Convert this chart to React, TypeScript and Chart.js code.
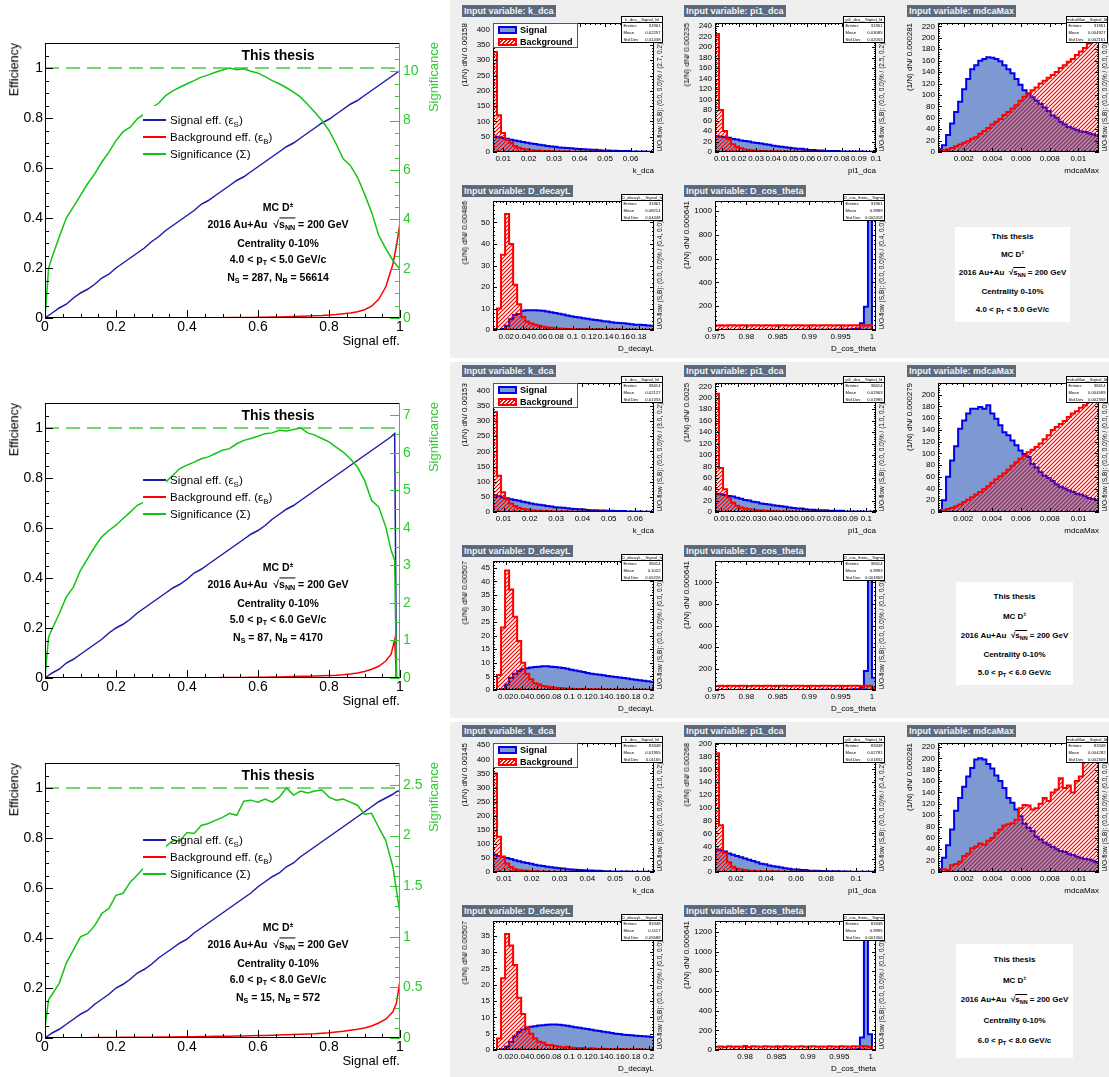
import React, { useEffect, useRef } from "react";
import { Chart, registerables } from "chart.js";
Chart.register(...registerables);

const FONT = '"Liberation Sans", Arial, Helvetica, sans-serif';
const BG = "#efefef";
const NAVY = "#1c1ca6";
const RED = "#ff0000";
const GREEN = "#14c414";
const GREEN_A = "#2fcb2f";
const GREEN_L = "#45cc45";
const SIG_FILL = "#7d99d1";
const SIG_LINE = "#0000ee";

// ---------------- efficiency / significance curves ----------------
const r1EffX = [0,0.01,0.02,0.04,0.06,0.08,0.10,0.12,0.14,0.16,0.18,0.20,0.22,0.24,0.26,0.28,0.30,0.32,0.34,0.36,0.38,0.40,0.42,0.44,0.46,0.48,0.50,0.52,0.54,0.56,0.58,0.60,0.62,0.64,0.66,0.68,0.70,0.72,0.74,0.76,0.78,0.80,0.82,0.84,0.86,0.88,0.90,0.92,0.94,0.96,0.98,0.99,1.00];
const r1SigEff = [0,0.01,0.02,0.04,0.055,0.08,0.10,0.115,0.135,0.16,0.175,0.2,0.22,0.24,0.26,0.28,0.305,0.325,0.35,0.37,0.39,0.41,0.43,0.455,0.47,0.49,0.51,0.53,0.55,0.565,0.585,0.605,0.625,0.645,0.665,0.685,0.7,0.72,0.74,0.76,0.78,0.795,0.815,0.835,0.855,0.87,0.89,0.91,0.93,0.95,0.97,0.98,0.99];
const r1BkgEff = [0,0,0,0,0,0,0,0,0,0,0,0,0,0,0,0,0,0,0,0,0,0.001,0.001,0.001,0.001,0.001,0.001,0.002,0.002,0.002,0.002,0.003,0.003,0.004,0.004,0.005,0.006,0.007,0.008,0.009,0.010,0.012,0.014,0.017,0.020,0.025,0.033,0.047,0.075,0.125,0.215,0.29,0.38];
const r1Signif = [0,2.0,2.47,3.28,4.05,4.5,4.97,5.44,5.84,6.32,6.72,7.19,7.55,7.73,8.07,8.27,8.52,8.7,9.01,9.2,9.35,9.49,9.62,9.76,9.85,9.96,10.05,10.13,10.06,10.1,10.0,9.92,9.78,9.62,9.49,9.33,9.15,8.95,8.65,8.34,8.0,7.6,7.06,6.45,6.18,5.71,5.03,4.29,3.35,2.81,2.33,2.15,2.0];

const r2EffX = [0,0.01,0.02,0.04,0.06,0.08,0.10,0.12,0.14,0.16,0.18,0.20,0.22,0.24,0.26,0.28,0.30,0.32,0.34,0.36,0.38,0.40,0.42,0.44,0.46,0.48,0.50,0.52,0.54,0.56,0.58,0.60,0.62,0.64,0.66,0.68,0.70,0.72,0.74,0.76,0.78,0.80,0.82,0.84,0.86,0.88,0.90,0.92,0.94,0.96,0.975,0.985,0.99];
const r2SigEff = [0,0.01,0.02,0.035,0.06,0.075,0.095,0.115,0.135,0.155,0.18,0.2,0.215,0.235,0.26,0.28,0.3,0.32,0.34,0.36,0.375,0.395,0.42,0.435,0.455,0.475,0.495,0.515,0.535,0.555,0.575,0.59,0.61,0.635,0.655,0.675,0.69,0.71,0.73,0.75,0.77,0.79,0.81,0.83,0.85,0.87,0.89,0.91,0.93,0.95,0.965,0.978,0];
const r2BkgEff = [0,0,0,0,0,0,0,0,0,0,0,0,0,0,0,0,0,0,0,0,0,0.001,0.001,0.001,0.001,0.001,0.002,0.002,0.002,0.002,0.003,0.003,0.003,0.004,0.004,0.005,0.006,0.007,0.007,0.008,0.009,0.01,0.011,0.013,0.016,0.02,0.026,0.035,0.047,0.068,0.095,0.153,0];
const r2Signif = [0,1.09,1.31,1.71,2.16,2.42,2.87,3.18,3.49,3.76,3.93,4.07,4.25,4.42,4.6,4.69,4.91,5.09,5.22,5.4,5.58,5.67,5.75,5.84,5.89,5.98,6.07,6.11,6.24,6.33,6.38,6.44,6.51,6.53,6.6,6.58,6.62,6.66,6.53,6.47,6.38,6.29,6.15,6.02,5.84,5.62,5.27,4.73,4.56,4.02,3.4,3.13,0];

const r3EffX = [0,0.01,0.02,0.04,0.06,0.08,0.10,0.12,0.14,0.16,0.18,0.20,0.22,0.24,0.26,0.28,0.30,0.32,0.34,0.36,0.38,0.40,0.42,0.44,0.46,0.48,0.50,0.52,0.54,0.56,0.58,0.60,0.62,0.64,0.66,0.68,0.70,0.72,0.74,0.76,0.78,0.80,0.82,0.84,0.86,0.88,0.90,0.92,0.94,0.96,0.98,0.99,1.00];
const r3SigEff = [0,0.01,0.02,0.035,0.055,0.075,0.095,0.11,0.135,0.155,0.175,0.2,0.215,0.235,0.26,0.275,0.295,0.32,0.34,0.36,0.38,0.395,0.42,0.44,0.46,0.48,0.5,0.52,0.54,0.56,0.58,0.605,0.625,0.645,0.66,0.685,0.7,0.725,0.745,0.765,0.785,0.805,0.825,0.845,0.865,0.885,0.905,0.925,0.945,0.96,0.975,0.985,0.99];
const r3BkgEff = [0,0,0,0.001,0.001,0.001,0.001,0.001,0.002,0.002,0.002,0.002,0.003,0.003,0.003,0.003,0.003,0.004,0.004,0.004,0.005,0.005,0.005,0.006,0.006,0.007,0.007,0.007,0.008,0.008,0.009,0.01,0.01,0.011,0.012,0.013,0.014,0.015,0.016,0.017,0.019,0.021,0.024,0.027,0.031,0.035,0.04,0.048,0.06,0.075,0.105,0.14,0.23];
const r3Signif = [0.1,0.38,0.43,0.54,0.74,0.87,1.0,1.03,1.11,1.23,1.28,1.41,1.43,1.54,1.61,1.69,1.74,1.77,1.89,1.95,1.95,2.03,2.02,2.1,2.12,2.15,2.18,2.22,2.2,2.34,2.35,2.33,2.36,2.33,2.38,2.47,2.4,2.44,2.42,2.44,2.45,2.38,2.35,2.36,2.33,2.3,2.21,2.22,2.08,1.95,1.69,1.46,1.23];

const EFF_XT = [0, 0.2, 0.4, 0.6, 0.8, 1];
const EFF_YT = [0, 0.2, 0.4, 0.6, 0.8, 1];
const SIG_T1 = [0, 2, 4, 6, 8, 10];
const SIG_T2 = [0, 1, 2, 3, 4, 5, 6, 7];
const SIG_T3 = [0, 0.5, 1, 1.5, 2, 2.5];

// ---------------- histograms (40 bins each) ----------------
const r1KdcaSig = [50,48,46,43,40,38,35,33,30,28,26,24,22,20,18,17,15,14,13,12,11,10,9,8,7,7,6,5,5,4,4,3,3,3,2,2,2,2,1,1];
const r1KdcaBkg = [327,120,62,40,30,20,14,10,8,6,5,4,3.5,3,2.5,2,2,1.5,1.5,1.2,1,1,0.8,0.8,0.6,0.6,0.5,0.5,0.4,0.4,0.3,0.3,0.3,0.2,0.2,0.2,0.2,0.1,0.1,0.1];
const r1Pi1Sig = [30,29,28,27,25,24,22,21,20,18,17,16,15,14,12,11,10,9,8,7,6,6,5,4,4,3,3,2,2,2,2,1,1,1,1,1,1,0.5,0.5,0.5];
const r1Pi1Bkg = [225,80,40,25,15,10,7,5,4,3,2.5,2,1.8,1.5,1.2,1,1,0.8,0.7,0.6,0.5,0.5,0.4,0.4,0.3,0.3,0.3,0.2,0.2,0.2,0.2,0.2,0.1,0.1,0.1,0.1,0.1,0.1,0.1,0.1];
const r1MdcaSig = [5,12,30,50,70,88,110,128,145,152,160,163,166,165,163,159,152,145,138,128,118,108,102,96,90,84,78,72,64,60,53,48,44,41,39,36,35,33,31,29];
const r1MdcaBkg = [2,3,5,7,10,13,16,19,23,26,32,37,42,48,53,58,65,70,76,82,90,97,103,108,113,120,125,130,135,140,147,152,158,163,170,176,182,190,196,203];
const r1DecaySig = [0,0,0.5,2,5,7,7.5,9,9.2,9.2,9.2,9.1,8.9,8.6,8.3,7.9,7.6,7.2,6.8,6.4,6.1,5.8,5.5,5.2,4.9,4.6,4.4,4.1,3.9,3.6,3.4,3.2,3.1,2.9,2.7,2.5,2.4,2.3,2.1,2.0];
const r1DecayBkg = [0.5,10,35,54,40,21,12,6,4,3,2.5,2,1.5,1.2,1,0.8,0.7,0.6,0.5,0.5,0.4,0.4,0.4,0.3,0.3,0.3,0.3,0.2,0.2,0.2,0.2,0.2,0.1,0.1,0.1,0.1,0.1,0.1,0.1,0.1];
const r1CosSig = [0.2,0.2,0.2,0.2,0.3,0.3,0.3,0.3,0.4,0.4,0.4,0.5,0.5,0.5,0.6,0.6,0.7,0.7,0.8,0.9,1,1,1.2,1.3,1.5,1.7,1.9,2.2,2.5,3,3.5,4,5,6,8,12,56,196,1300,0];
const r1CosBkg = [38,39,38,40,39,38,39,40,38,39,39,38,40,39,38,39,39,40,38,39,39,40,38,39,39,38,40,39,39,38,40,39,38,39,40,39,38,40,39,0];

const r2KdcaSig = [55,52,48,45,42,40,37,34,31,28,26,24,22,20,18,16,15,14,12,11,10,9,8,7,6,6,5,5,4,4,3,3,3,2,2,2,2,1,1,1];
const r2KdcaBkg = [330,120,65,42,28,20,14,10,8,6,5,4,3.5,3,2.5,2,2,1.5,1.5,1.2,1,1,0.8,0.8,0.6,0.6,0.5,0.5,0.4,0.4,0.3,0.3,0.3,0.2,0.2,0.2,0.2,0.1,0.1,0.1];
const r2Pi1Sig = [32,31,30,28,27,25,23,21,20,18,17,15,14,13,12,11,10,9,8,7,6,6,5,4,4,3,3,3,2,2,2,2,1,1,1,1,1,0.5,0.5,0.5];
const r2Pi1Bkg = [207,77,40,25,16,11,8,6,5,4,3,2.5,2,1.8,1.5,1.2,1,1,0.8,0.7,0.6,0.5,0.5,0.4,0.4,0.3,0.3,0.3,0.2,0.2,0.2,0.2,0.2,0.1,0.1,0.1,0.1,0.1,0.1,0.1];
const r2MdcaSig = [3,20,60,88,112,142,156,168,176,176,179,176,182,168,159,148,136,131,122,114,105,99,94,82,76,68,62,58,53,47,43,40,37,34,31,30,27,24,22,20];
const r2MdcaBkg = [2,3,5,7,10,13,17,21,25,30,34,39,44,50,56,61,66,72,79,85,91,96,102,106,111,117,124,131,140,145,150,155,162,168,172,178,182,188,194,198];
const r2DecaySig = [0,0,0.3,2,4.5,6,7,7.6,8,8.3,8.5,8.6,8.7,8.7,8.6,8.5,8.3,8.1,7.8,7.5,7.2,6.9,6.6,6.3,6,5.8,5.6,5.4,5.2,5,4.8,4.6,4.4,4.2,4,3.8,3.6,3.4,3.2,3];
const r2DecayBkg = [0,5.5,23,44,37,27,18,10,6,4,2.5,2,1.5,1.2,1,0.8,0.7,0.6,0.5,0.5,0.4,0.4,0.4,0.3,0.3,0.3,0.3,0.2,0.2,0.2,0.2,0.2,0.1,0.1,0.1,0.1,0.1,0.1,0.1,0.1];
const r2CosSig = [0.1,0.1,0.1,0.1,0.1,0.2,0.2,0.2,0.2,0.2,0.3,0.3,0.3,0.3,0.4,0.4,0.4,0.5,0.5,0.6,0.6,0.7,0.8,0.9,1,1.1,1.3,1.5,1.7,2,2.4,2.8,3.4,4,5,7,20,177,1350,115];
const r2CosBkg = [38,39,38,40,39,38,39,40,38,39,39,38,40,39,38,39,39,40,38,39,39,40,38,39,39,38,40,39,39,38,40,39,38,39,40,39,38,40,39,20];

const r3KdcaSig = [62,57,53,50,46,42,38,35,32,29,26,23,21,19,17,15,13,12,10,9,8,7,6,5,5,4,4,3,3,2,2,2,1.5,1.5,1,1,1,0.5,0.5,0.5];
const r3KdcaBkg = [350,125,55,30,18,10,7,5,4,3,2.5,2,1.5,1.2,1,0.8,0.7,0.6,0.5,0.5,0.4,0.4,0.3,0.3,0.3,0.2,0.2,0.2,0.2,0.2,0.1,0.1,0.1,0.1,0.1,0.1,0.1,0.1,0.1,0.1];
const r3Pi1Sig = [35,34,32,29,27,25,23,21,19,17,15,13,12,10,9,8,7,6,5,4,4,3,3,2,2,2,1.5,1.5,1,1,1,0.8,0.6,0.5,0.5,0.4,0.3,0.3,0.2,0.2];
const r3Pi1Bkg = [185,73,30,15,8,5,4,3,2,2,1.5,1.2,1,1,0.8,0.7,0.6,0.5,0.5,0.4,0.4,0.3,0.3,0.3,0.2,0.2,0.2,0.2,0.1,0.1,0.1,0.1,0.1,0.1,0.1,0.1,0.1,0.1,0.1,0.1];
const r3MdcaSig = [5,25,47,75,108,130,150,168,183,198,200,198,190,182,170,160,148,130,122,110,98,85,78,72,62,57,52,48,44,40,37,35,32,30,27,25,23,22,20,17];
const r3MdcaBkg = [0,5,3,12,14,18,28,32,42,45,50,48,55,60,68,75,82,84,86,92,112,118,117,110,112,120,130,125,140,145,165,148,152,140,160,168,195,200,210,205];
const r3DecaySig = [0,0,0.2,1,2.5,4.2,5.5,6.3,6.8,7.1,7.3,7.5,7.6,7.7,7.8,7.8,7.7,7.6,7.4,7.2,7,6.8,6.6,6.4,6.2,6,5.8,5.6,5.4,5.2,5,4.9,4.7,4.6,4.5,4.4,4.3,4.2,4.1,4];
const r3DecayBkg = [0,3.5,22,35.5,32,26,16,11,7,5,3.5,2.5,2.2,1.5,1.5,1.2,1,0.8,1,0.7,0.6,0.5,0.6,0.4,0.5,0.4,0.3,0.4,0.3,0.3,0.2,0.3,0.2,0.2,0.2,0.1,0.2,0.1,0.1,0.1];
const r3CosSig = [0.1,0.1,0.1,0.1,0.1,0.1,0.1,0.1,0.1,0.2,0.2,0.2,0.2,0.2,0.3,0.3,0.3,0.3,0.4,0.4,0.5,0.5,0.6,0.7,0.8,0.9,1,1.2,1.4,1.7,2,2.5,3,4,5,8,127,1500,160,0];
const r3CosBkg = [32,35,30,38,33,36,34,40,31,37,35,33,38,36,32,39,34,37,35,33,36,38,32,35,37,34,36,33,39,35,34,37,36,33,38,35,40,37,30,0];

// tick labels
const KDCA_XT = [0.01, 0.02, 0.03, 0.04, 0.05, 0.06];
const PI1_XT_A = [0.01, 0.02, 0.03, 0.04, 0.05, 0.06, 0.07, 0.08, 0.09, 0.1];
const PI1_XT_B = [0.02, 0.04, 0.06, 0.08, 0.1];
const MDCA_XT = [0.002, 0.004, 0.006, 0.008, 0.01];
const DECAY_XT_A = [0.02, 0.04, 0.06, 0.08, 0.1, 0.12, 0.14, 0.16, 0.18];
const DECAY_XT_B = [0.02, 0.04, 0.06, 0.08, 0.1, 0.12, 0.14, 0.16, 0.18, 0.2];
const COS_XT_A = [0.975, 0.98, 0.985, 0.99, 0.995, 1];
const COS_XT_B = [0.98, 0.985, 0.99, 0.995, 1];
const KDCA_YT_A = [0, 50, 100, 150, 200, 250, 300, 350, 400];
const KDCA_YT_B = [0, 50, 100, 150, 200, 250, 300, 350, 400, 450];
const YT_240 = [0, 20, 40, 60, 80, 100, 120, 140, 160, 180, 200, 220, 240];
const YT_220 = [0, 20, 40, 60, 80, 100, 120, 140, 160, 180, 200, 220];
const YT_200 = [0, 20, 40, 60, 80, 100, 120, 140, 160, 180, 200];
const DECAY_YT_1 = [0, 10, 20, 30, 40, 50];
const DECAY_YT_2 = [0, 5, 10, 15, 20, 25, 30, 35, 40, 45];
const DECAY_YT_3 = [0, 5, 10, 15, 20, 25, 30, 35];
const COS_YT_A = [0, 200, 400, 600, 800, 1000];
const COS_YT_B = [0, 200, 400, 600, 800, 1000, 1200];

const ENTRIES = ["31961", "38414", "83348"];
const PT_BINS = [["4.0", "5.0"], ["5.0", "6.0"], ["6.0", "8.0"]];
const NS = ["287", "87", "15"];
const NB = ["56614", "4170", "572"];

type H = { name: string; col: number; lvl: number; min: number; max: number; yMax: number; xt: number[]; yt: number[]; sig: number[]; bkg: number[]; binw: string; mean: string; std: string; uo: string };

const ROW_HISTS: H[][] = [
  [
    { name: "k_dca", col: 0, lvl: 0, min: 0.006, max: 0.0692, yMax: 422, xt: KDCA_XT, yt: KDCA_YT_A, sig: r1KdcaSig, bkg: r1KdcaBkg, binw: "0.00158", mean: "0.02257", std: "0.01438", uo: "(0.0, 0.0)% / (2.7, 0.2)%" },
    { name: "pi1_dca", col: 1, lvl: 0, min: 0.006, max: 0.1, yMax: 246, xt: PI1_XT_A, yt: YT_240, sig: r1Pi1Sig, bkg: r1Pi1Bkg, binw: "0.00235", mean: "0.03085", std: "0.02053", uo: "(0.0, 0.0)% / (2.5, 0.2)%" },
    { name: "mdcaMax", col: 2, lvl: 0, min: 0.0002, max: 0.01144, yMax: 226, xt: MDCA_XT, yt: YT_220, sig: r1MdcaSig, bkg: r1MdcaBkg, binw: "0.000281", mean: "0.004927", std: "0.002161", uo: "(0.0, 0.0)% / (0.0, 0.0)%" },
    { name: "D_decayL", col: 0, lvl: 1, min: 0.004, max: 0.1984, yMax: 60, xt: DECAY_XT_A, yt: DECAY_YT_1, sig: r1DecaySig, bkg: r1DecayBkg, binw: "0.00486", mean: "0.08214", std: "0.04448", uo: "(0.0, 0.0)% / (0.4, 0.0)%" },
    { name: "D_cos_theta", col: 1, lvl: 1, min: 0.975, max: 1.00064, yMax: 1084, xt: COS_XT_A, yt: COS_YT_A, sig: r1CosSig, bkg: r1CosBkg, binw: "0.000641", mean: "0.9989", std: "0.002418", uo: "(0.0, 0.0)% / (0.4, 0.0)%" },
  ],
  [
    { name: "k_dca", col: 0, lvl: 0, min: 0.006, max: 0.0672, yMax: 426, xt: KDCA_XT, yt: KDCA_YT_A, sig: r2KdcaSig, bkg: r2KdcaBkg, binw: "0.00153", mean: "0.02127", std: "0.01333", uo: "(0.0, 0.0)% / (3.0, 0.2)%" },
    { name: "pi1_dca", col: 1, lvl: 0, min: 0.006, max: 0.106, yMax: 226, xt: PI1_XT_A, yt: YT_220, sig: r2Pi1Sig, bkg: r2Pi1Bkg, binw: "0.0025", mean: "0.02963", std: "0.01985", uo: "(0.0, 0.0)% / (1.0, 0.2)%" },
    { name: "mdcaMax", col: 2, lvl: 0, min: 0.00025, max: 0.01141, yMax: 220, xt: MDCA_XT, yt: YT_200, sig: r2MdcaSig, bkg: r2MdcaBkg, binw: "0.000279", mean: "0.004589", std: "0.002358", uo: "(0.0, 0.0)% / (0.0, 0.0)%" },
    { name: "D_decayL", col: 0, lvl: 1, min: 0.004, max: 0.2068, yMax: 47.5, xt: DECAY_XT_B, yt: DECAY_YT_2, sig: r2DecaySig, bkg: r2DecayBkg, binw: "0.00507", mean: "0.1022", std: "0.05226", uo: "(0.0, 0.0)% / (0.0, 0.0)%" },
    { name: "D_cos_theta", col: 1, lvl: 1, min: 0.975, max: 1.00064, yMax: 1200, xt: COS_XT_A, yt: COS_YT_A, sig: r2CosSig, bkg: r2CosBkg, binw: "0.000641", mean: "0.9993", std: "0.001869", uo: "(0.0, 0.0)% / (0.0, 0.0)%" },
  ],
  [
    { name: "k_dca", col: 0, lvl: 0, min: 0.006, max: 0.064, yMax: 458, xt: KDCA_XT, yt: KDCA_YT_B, sig: r3KdcaSig, bkg: r3KdcaBkg, binw: "0.00145", mean: "0.01955", std: "0.01165", uo: "(0.0, 0.0)% / (1.0, 0.2)%" },
    { name: "pi1_dca", col: 1, lvl: 0, min: 0.006, max: 0.1132, yMax: 201, xt: PI1_XT_B, yt: YT_200, sig: r3Pi1Sig, bkg: r3Pi1Bkg, binw: "0.00268", mean: "0.02781", std: "0.01832", uo: "(0.0, 0.0)% / (0.4, 0.2)%" },
    { name: "mdcaMax", col: 2, lvl: 0, min: 0.0002, max: 0.01144, yMax: 227, xt: MDCA_XT, yt: YT_220, sig: r3MdcaSig, bkg: r3MdcaBkg, binw: "0.000281", mean: "0.004282", std: "0.002309", uo: "(0.0, 0.0)% / (0.0, 0.0)%" },
    { name: "D_decayL", col: 0, lvl: 1, min: 0.004, max: 0.2068, yMax: 39.5, xt: DECAY_XT_B, yt: DECAY_YT_3, sig: r3DecaySig, bkg: r3DecayBkg, binw: "0.00507", mean: "0.1117", std: "0.05688", uo: "(0.0, 0.0)% / (0.0, 0.0)%" },
    { name: "D_cos_theta", col: 1, lvl: 1, min: 0.9752, max: 1.00084, yMax: 1310, xt: COS_XT_B, yt: COS_YT_B, sig: r3CosSig, bkg: r3CosBkg, binw: "0.000641", mean: "0.9995", std: "0.001306", uo: "(0.0, 0.0)% / (0.0, 0.0)%" },
  ],
];

const EFF_ROWS = [
  { x: r1EffX, se: r1SigEff, be: r1BkgEff, sg: r1Signif, sgt: SIG_T1, sgSub: 4 },
  { x: r2EffX, se: r2SigEff, be: r2BkgEff, sg: r2Signif, sgt: SIG_T2, sgSub: 2 },
  { x: r3EffX, se: r3SigEff, be: r3BkgEff, sg: r3Signif, sgt: SIG_T3, sgSub: 5 },
];

// ---------------- layout (pixels) ----------------
const LEFT_T = [43, 403, 763];
const RIGHT_OFF = [0, 360, 720];
const COLS = [493, 715, 938];
const LVL_T = [23, 201];
const HW = 161;
const HH = 129;
const TBOX = [
  { x: 955, y: 227, w: 115, h: 95, ly: [10, 28, 46, 65, 83] },
  { x: 956, y: 582, w: 117, h: 103, ly: [15, 35, 54, 73, 91] },
  { x: 956, y: 944, w: 117, h: 114, ly: [16, 37, 56, 77, 97] },
];

const fmt = (v: any) => String(parseFloat(Number(v).toPrecision(8)));

function axis(o: any) {
  return {
    type: "linear",
    position: o.position,
    min: o.min,
    max: o.max,
    afterBuildTicks: (s: any) => {
      s.ticks = o.ticks.map((v: number) => ({ value: v }));
    },
    afterFit: (s: any) => {
      if (o.horizontal) s.height = o.fit;
      else s.width = o.fit;
      s.paddingLeft = 0;
      s.paddingRight = 0;
      s.paddingTop = 0;
      s.paddingBottom = 0;
    },
    grid: { display: false, drawTicks: false },
    border: { display: false },
    ticks: {
      autoSkip: false,
      maxRotation: 0,
      minRotation: 0,
      padding: o.pad,
      color: o.color || "#000",
      font: { family: FONT, size: o.size },
      callback: (v: any) => fmt(v),
    },
  };
}

type TickSpec = { scale: string; side: string; major: number[]; sub: number; len: number; mlen: number; color: string };

function framePlugin(ticks: TickSpec[], edges: { side: string; color: string }[], whiteBox?: number[], fillArea?: boolean) {
  return {
    id: "rootframe",
    beforeDatasetsDraw(chart: any) {
      if (!fillArea) return;
      const { ctx, chartArea: a } = chart;
      ctx.save();
      ctx.fillStyle = "#ffffff";
      ctx.fillRect(a.left, a.top, a.right - a.left, a.bottom - a.top);
      ctx.restore();
    },
    afterDatasetsDraw(chart: any) {
      const { ctx, chartArea: a, scales } = chart;
      ctx.save();
      if (whiteBox) {
        ctx.fillStyle = "#ffffff";
        ctx.fillRect(a.left + whiteBox[0], a.top + whiteBox[2], whiteBox[1] - whiteBox[0], whiteBox[3] - whiteBox[2]);
      }
      ctx.lineWidth = 1;
      for (const t of ticks) {
        const s = scales[t.scale];
        const step = t.major[1] - t.major[0];
        const ms = step / t.sub;
        const kmin = Math.ceil((s.min - t.major[0]) / ms - 1e-6);
        const kmax = Math.floor((s.max - t.major[0]) / ms + 1e-6);
        ctx.strokeStyle = t.color;
        ctx.beginPath();
        for (let k = kmin; k <= kmax; k++) {
          const v = t.major[0] + k * ms;
          const isMajor = Math.abs(k % t.sub) < 1e-9;
          const L = isMajor ? t.len : t.mlen;
          const p = Math.round(s.getPixelForValue(v)) + 0.5;
          if (t.side === "left") { ctx.moveTo(a.left, p); ctx.lineTo(a.left + L, p); }
          else if (t.side === "right") { ctx.moveTo(a.right, p); ctx.lineTo(a.right - L, p); }
          else if (t.side === "bottom") { ctx.moveTo(p, a.bottom); ctx.lineTo(p, a.bottom - L); }
          else { ctx.moveTo(p, a.top); ctx.lineTo(p, a.top + L); }
        }
        ctx.stroke();
      }
      const L = Math.round(a.left) + 0.5;
      const R = Math.round(a.right) - 0.5;
      const T = Math.round(a.top) + 0.5;
      const B = Math.round(a.bottom) - 0.5;
      for (const e of edges) {
        ctx.strokeStyle = e.color;
        ctx.beginPath();
        if (e.side === "left") { ctx.moveTo(L, T - 0.5); ctx.lineTo(L, B + 0.5); }
        else if (e.side === "right") { ctx.moveTo(R, T - 0.5); ctx.lineTo(R, B + 0.5); }
        else if (e.side === "top") { ctx.moveTo(L - 0.5, T); ctx.lineTo(R + 0.5, T); }
        else { ctx.moveTo(L - 0.5, B); ctx.lineTo(R + 0.5, B); }
        ctx.stroke();
      }
      ctx.restore();
    },
  };
}

function ChartBox({ left, top, width, height, make }: any) {
  const ref = useRef<HTMLCanvasElement>(null);
  useEffect(() => {
    const cv = ref.current!;
    const ch = new Chart(cv, make(cv.getContext("2d")));
    return () => ch.destroy();
  }, []);
  return <canvas ref={ref} width={width} height={height} style={{ position: "absolute", left, top, width, height }} />;
}

const Sub = ({ children }: any) => <span style={{ fontSize: "68%", position: "relative", top: "0.32em" }}>{children}</span>;
const Sup = ({ children }: any) => <span style={{ fontSize: "60%", position: "relative", top: "-0.6em" }}>{children}</span>;
const SqrtS = () => (
  <span>
    √<span style={{ borderTop: "1px solid currentColor" }}>s<Sub>NN</Sub></span>
  </span>
);

function Txt({ x, y, align = "left", size, bold, color = "#000", children }: any) {
  const tx = align === "left" ? "0" : align === "center" ? "-50%" : "-100%";
  return (
    <div style={{ position: "absolute", left: x, top: y, transform: `translate(${tx},-50%)`, fontSize: size, fontWeight: bold ? "bold" : "normal", color, whiteSpace: "nowrap", lineHeight: 1 }}>
      {children}
    </div>
  );
}

function VTxt({ cx, top, bottom, size, color = "#000", bold, children }: any) {
  const st: any = {
    position: "absolute",
    left: cx,
    writingMode: "vertical-rl",
    transform: "translateX(-50%) rotate(180deg)",
    fontSize: size,
    lineHeight: 1,
    color,
    fontWeight: bold ? "bold" : "normal",
    whiteSpace: "nowrap",
  };
  if (top !== undefined) st.top = top;
  if (bottom !== undefined) st.bottom = 1077 - bottom;
  return <div style={st}>{children}</div>;
}

function EffPanel({ i }: { i: number }) {
  const row = EFF_ROWS[i];
  const T = LEFT_T[i];
  const make = () => {
    const pts = (ys: number[]) => row.x.map((x, k) => ({ x, y: ys[k] }));
    const sgMax = Math.max(...row.sg);
    const base = { pointRadius: 0, borderWidth: 1.5, fill: false };
    return {
      type: "line",
      data: {
        datasets: [
          { ...base, data: pts(row.sg), yAxisID: "y2", borderColor: GREEN },
          { ...base, data: pts(row.se), yAxisID: "y", borderColor: NAVY },
          { ...base, data: pts(row.be), yAxisID: "y", borderColor: RED },
          { ...base, data: [{ x: 0, y: 1 }, { x: 1, y: 1 }], yAxisID: "y", borderColor: GREEN_L, borderDash: [14, 7] },
        ],
      },
      options: {
        animation: false,
        responsive: false,
        events: [],
        layout: { padding: { top: 13, left: 0, right: 0, bottom: 0 } },
        plugins: { legend: { display: false }, tooltip: { enabled: false } },
        scales: {
          x: axis({ position: "bottom", min: 0, max: 1, ticks: EFF_XT, size: 14, pad: 1, fit: 35, horizontal: true }),
          y: axis({ position: "left", min: 0, max: 1.1, ticks: EFF_YT, size: 14, pad: 2, fit: 45 }),
          y2: axis({ position: "right", min: 0, max: sgMax * 1.1, ticks: row.sgt, size: 14, pad: 3, fit: 50, color: GREEN_A }),
        },
      },
      plugins: [
        framePlugin(
          [
            { scale: "y", side: "left", major: EFF_YT, sub: 4, len: 8, mlen: 4, color: "#000" },
            { scale: "x", side: "bottom", major: EFF_XT, sub: 4, len: 8, mlen: 4, color: "#000" },
            { scale: "y2", side: "right", major: row.sgt, sub: row.sgSub, len: 10, mlen: 5, color: GREEN_A },
          ],
          [
            { side: "top", color: "#000" },
            { side: "left", color: "#000" },
            { side: "bottom", color: "#000" },
            { side: "right", color: GREEN_A },
          ],
          [98, 121, 63, 122],
          false
        ),
      ],
    };
  };
  const pt = PT_BINS[i];
  const leg = [
    { c: NAVY, t: <>Signal eff. (ε<Sub>S</Sub>)</> },
    { c: RED, t: <>Background eff. (ε<Sub>B</Sub>)</> },
    { c: GREEN, t: <>Significance (Σ)</> },
  ];
  return (
    <>
      <ChartBox left={0} top={T - 13} width={450} height={323} make={make} />
      <VTxt cx={15} top={T} size={12.5}>Efficiency</VTxt>
      <VTxt cx={433} top={T - 1} size={13} color={GREEN_A}>Significance</VTxt>
      <Txt x={400} y={T + 297} align="right" size={13}>Signal eff.</Txt>
      <Txt x={278} y={T + 12} align="center" size={14} bold>This thesis</Txt>
      {leg.map((e, k) => (
        <React.Fragment key={k}>
          <div style={{ position: "absolute", left: 143, top: T + 76 + 17 * k, width: 23, height: 1.6, background: e.c }} />
          <Txt x={170} y={T + 77 + 17 * k} size={11.6}>{e.t}</Txt>
        </React.Fragment>
      ))}
      <Txt x={278} y={T + 164} align="center" size={10.5} bold>MC D<Sup>±</Sup></Txt>
      <Txt x={278} y={T + 182} align="center" size={10.5} bold>2016 Au+Au&nbsp; <SqrtS /> = 200 GeV</Txt>
      <Txt x={278} y={T + 200} align="center" size={10.5} bold>Centrality 0-10%</Txt>
      <Txt x={278} y={T + 217} align="center" size={10.5} bold>{pt[0] + " < p"}<Sub>T</Sub>{" < " + pt[1] + " GeV/c"}</Txt>
      <Txt x={278} y={T + 235} align="center" size={10.5} bold>N<Sub>S</Sub>{" = " + NS[i] + ", N"}<Sub>B</Sub>{" = " + NB[i]}</Txt>
    </>
  );
}

function makeHatch(ctx: CanvasRenderingContext2D) {
  const c = document.createElement("canvas");
  c.width = 4;
  c.height = 4;
  const g = c.getContext("2d")!;
  g.strokeStyle = RED;
  g.lineWidth = 1.2;
  g.beginPath();
  g.moveTo(-1, 5); g.lineTo(5, -1);
  g.moveTo(-1, 1); g.lineTo(1, -1);
  g.moveTo(3, 5); g.lineTo(5, 3);
  g.stroke();
  return ctx.createPattern(c, "repeat");
}

function HistPanel({ h, l, t, entries }: { h: H; l: number; t: number; entries: string }) {
  const make = (ctx: CanvasRenderingContext2D) => {
    const n = h.sig.length;
    const bw = (h.max - h.min) / n;
    const steps = (vals: number[]) => {
      const p: { x: number; y: number }[] = [{ x: h.min, y: 0 }];
      vals.forEach((v, k) => p.push({ x: h.min + k * bw, y: v }));
      p.push({ x: h.max, y: 0 });
      return p;
    };
    const hatch = makeHatch(ctx);
    return {
      type: "line",
      data: {
        datasets: [
          { data: steps(h.bkg), stepped: "before", borderColor: RED, borderWidth: 2, backgroundColor: hatch, fill: "origin", pointRadius: 0 },
          { data: steps(h.sig), stepped: "before", borderColor: SIG_LINE, borderWidth: 2, backgroundColor: SIG_FILL, fill: "origin", pointRadius: 0 },
        ],
      },
      options: {
        animation: false,
        responsive: false,
        events: [],
        layout: { padding: { top: 3, right: 14, left: 0, bottom: 0 } },
        plugins: { legend: { display: false }, tooltip: { enabled: false } },
        scales: {
          x: axis({ position: "bottom", min: h.min, max: h.max, ticks: h.xt, size: 8, pad: 2, fit: 14, horizontal: true }),
          y: axis({ position: "left", min: 0, max: h.yMax, ticks: h.yt, size: 8, pad: 3, fit: 30 }),
        },
      },
      plugins: [
        framePlugin(
          [
            { scale: "y", side: "left", major: h.yt, sub: 5, len: 4, mlen: 2, color: "#000" },
            { scale: "y", side: "right", major: h.yt, sub: 5, len: 4, mlen: 2, color: "#000" },
            { scale: "x", side: "bottom", major: h.xt, sub: 5, len: 4, mlen: 2, color: "#000" },
            { scale: "x", side: "top", major: h.xt, sub: 5, len: 4, mlen: 2, color: "#000" },
          ],
          [
            { side: "top", color: "#000" },
            { side: "left", color: "#000" },
            { side: "bottom", color: "#000" },
            { side: "right", color: "#000" },
          ],
          undefined,
          true
        ),
      ],
    };
  };
  const statRow = (k: string, v: string) => (
    <div style={{ display: "flex", justifyContent: "space-between", padding: "0 1.5px", height: 7, alignItems: "center" }}>
      <span>{k}</span>
      <span>{v}</span>
    </div>
  );
  return (
    <>
      <ChartBox left={l - 30} top={t - 3} width={HW + 44} height={HH + 17} make={make} />
      <div style={{ position: "absolute", left: l - 31, top: t - (h.lvl === 0 ? 18 : 16), height: 12, lineHeight: "12px", padding: "0 2px", background: "#5c6a7d", color: "#f3f3f3", fontSize: 9, fontWeight: "bold", whiteSpace: "nowrap" }}>
        Input variable: {h.name}
      </div>
      <VTxt cx={l - 28} top={t} size={8}>{"(1/N) dN/ " + h.binw}</VTxt>
      <Txt x={l + HW} y={t + HH + 19} align="right" size={8}>{h.name}</Txt>
      <VTxt cx={l + HW + 6} bottom={t + HH} size={6.5} color="#111">{"U/O-flow (S,B): " + h.uo}</VTxt>
      <div style={{ position: "absolute", left: l + HW + 9 - 42, top: t - 7, width: 42, height: 27, boxSizing: "border-box", border: "1px solid #000", background: "#fff", fontSize: 4.2, lineHeight: 1 }}>
        <div style={{ height: 5, borderBottom: "0.8px solid #000", textAlign: "center", lineHeight: "5px", whiteSpace: "nowrap", overflow: "hidden" }}>{h.name}__Signal_Id</div>
        {statRow("Entries", entries)}
        {statRow("Mean", h.mean)}
        {statRow("Std Dev", h.std)}
      </div>
      {h.name === "k_dca" && (
        <div style={{ position: "absolute", left: l, top: t, width: 85, height: 25, boxSizing: "border-box", border: "1px solid #555", background: "#fff" }}>
          <div style={{ position: "absolute", left: 4, top: 1.5, width: 19, height: 8, boxSizing: "border-box", border: `2px solid ${SIG_LINE}`, background: SIG_FILL }} />
          <div style={{ position: "absolute", left: 4, top: 13.5, width: 19, height: 8, boxSizing: "border-box", border: `2px solid ${RED}`, background: `repeating-linear-gradient(-45deg, ${RED} 0 1.2px, #fff 1.2px 2.8px)` }} />
          <div style={{ position: "absolute", left: 26, top: 6, transform: "translateY(-50%)", fontSize: 9, fontWeight: "bold", whiteSpace: "nowrap", lineHeight: 1 }}>Signal</div>
          <div style={{ position: "absolute", left: 26, top: 18, transform: "translateY(-50%)", fontSize: 9, fontWeight: "bold", whiteSpace: "nowrap", lineHeight: 1 }}>Background</div>
        </div>
      )}
    </>
  );
}

function InfoBox({ i }: { i: number }) {
  const b = TBOX[i];
  const pt = PT_BINS[i];
  const cx = b.x + b.w / 2;
  return (
    <>
      <div style={{ position: "absolute", left: b.x, top: b.y, width: b.w, height: b.h, background: "#fff" }} />
      <Txt x={cx} y={b.y + b.ly[0]} align="center" size={8} bold>This thesis</Txt>
      <Txt x={cx} y={b.y + b.ly[1]} align="center" size={8} bold>MC D<Sup>±</Sup></Txt>
      <Txt x={cx} y={b.y + b.ly[2]} align="center" size={8} bold>2016 Au+Au&nbsp; <SqrtS /> = 200 GeV</Txt>
      <Txt x={cx} y={b.y + b.ly[3]} align="center" size={8} bold>Centrality 0-10%</Txt>
      <Txt x={cx} y={b.y + b.ly[4]} align="center" size={8} bold>{pt[0] + " < p"}<Sub>T</Sub>{" < " + pt[1] + " GeV/c"}</Txt>
    </>
  );
}

export default function App() {
  return (
    <div style={{ position: "absolute", left: 0, top: 0, width: 1109, height: 1077, background: "#fff", overflow: "hidden", fontFamily: FONT }}>
      <div style={{ position: "absolute", left: 450, top: 0, width: 659, height: 358, background: BG }} />
      <div style={{ position: "absolute", left: 450, top: 362, width: 659, height: 356, background: BG }} />
      <div style={{ position: "absolute", left: 450, top: 722, width: 659, height: 355, background: BG }} />
      {[0, 1, 2].map((i) => (
        <EffPanel key={"e" + i} i={i} />
      ))}
      {ROW_HISTS.map((hs, i) =>
        hs.map((h, j) => <HistPanel key={`h${i}-${j}`} h={h} l={COLS[h.col]} t={RIGHT_OFF[i] + LVL_T[h.lvl]} entries={ENTRIES[i]} />)
      )}
      {[0, 1, 2].map((i) => (
        <InfoBox key={"b" + i} i={i} />
      ))}
    </div>
  );
}
